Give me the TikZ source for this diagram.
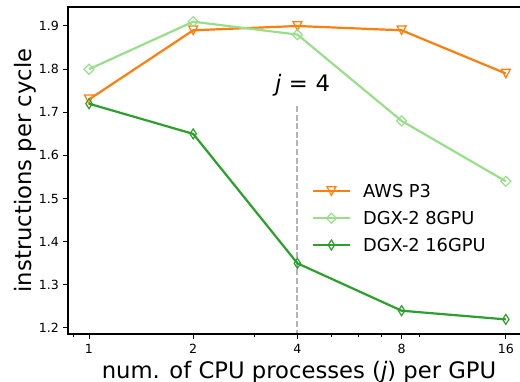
\documentclass[tikz,border=0pt]{standalone}
\usepackage{fontspec}
\setmainfont{DejaVu Sans}
\definecolor{cOrange}{HTML}{FF7F0E}
\definecolor{cLight}{HTML}{98DF8A}
\definecolor{cGreen}{HTML}{2CA02C}
\definecolor{cGrid}{HTML}{B4B4B4}
\begin{document}
\begin{tikzpicture}[x=1pt,y=-1pt,
  spine/.style={line width=1.2pt,black,line cap=rect},
  tick/.style={line width=1pt,black},
  ticklabel/.style={inner sep=0pt,font=\fontsize{12.6}{14}\selectfont},
  axlabel/.style={inner sep=0pt,font=\fontsize{22.7}{26}\selectfont},
  legtext/.style={inner sep=0pt,anchor=base west,font=\fontsize{17.8}{20}\selectfont},
  series/.style={line width=2.2pt,line join=round},
  mk/.style={line width=1.2pt,fill=none},
  tri/.pic={\draw[mk] (-4.5,-4.3) -- (4.5,-4.3) -- (0,4.3) -- cycle;},
  dia/.pic={\draw[mk] (-5,0) -- (0,-5) -- (5,0) -- (0,5) -- cycle;},
  thin/.pic={\draw[mk] (-3.2,0) -- (0,-5) -- (3.2,0) -- (0,5) -- cycle;}
]
\useasboundingbox (0,0) rectangle (520,382);

% data coordinates
\coordinate (a1) at (89,99.4);   \coordinate (a2) at (193.2,30.3);
\coordinate (a3) at (297.4,26);  \coordinate (a4) at (401.6,30.3);
\coordinate (a5) at (505.8,73.5);
\coordinate (b1) at (89,69.2);   \coordinate (b2) at (193.2,21.7);
\coordinate (b3) at (297.4,34.6);\coordinate (b4) at (401.6,120.9);
\coordinate (b5) at (505.8,181.3);
\coordinate (c1) at (89,103.7);  \coordinate (c2) at (193.2,133.9);
\coordinate (c3) at (297.4,263.3);\coordinate (c4) at (401.6,310.7);
\coordinate (c5) at (505.8,319.4);

% j = 4 reference line
\coordinate (vtop) at (297.4,106);
\coordinate (vbot) at (297.4,334);
\draw[cGrid,line width=1.9pt,dash pattern=on 6pt off 2.6pt] (vtop) -- (vbot);
\node[axlabel,anchor=base] (jlabel) at (302.5,92) {\itshape j\upshape\,\,=\,\,4};

% series
\draw[series,cOrange] (a1) -- (a2) -- (a3) -- (a4) -- (a5);
\foreach \p in {a1,a2,a3,a4,a5} \pic[cOrange] at (\p) {tri};
\draw[series,cLight] (b1) -- (b2) -- (b3) -- (b4) -- (b5);
\foreach \p in {b1,b2,b3,b4,b5} \pic[cLight] at (\p) {dia};
\draw[series,cGreen] (c1) -- (c2) -- (c3) -- (c4) -- (c5);
\foreach \p in {c1,c2,c3,c4,c5} \pic[cGreen] at (\p) {thin};

% spines
\draw[spine] (520,7) -- (68,7) -- (68,334) -- (520,334);

% y ticks
\foreach \v/\yy in {1.2/328,1.3/284.9,1.4/241.7,1.5/198.6,1.6/155.4,1.7/112.3,1.8/69.1,1.9/26}{
  \draw[tick] (63.3,\yy) -- (68,\yy);
  \node[ticklabel,anchor=east] at (59,\yy) {\v};
}
% x ticks
\foreach \n/\xx in {1/89,2/193.2,4/297.4,8/401.6,16/505.8}{
  \draw[tick] (\xx,334) -- (\xx,338.7);
  \node[ticklabel,anchor=base] at (\xx,353.3) {\n};
}
\foreach \xx in {73.2,254.2,330.9,358.4,381.5,419.3}{
  \draw[line width=0.8pt,black] (\xx,334) -- (\xx,336.8);
}

% axis labels
\node[axlabel,anchor=base] (xlab) at (299,378) {num. of CPU processes ({\itshape j}) per GPU};
\node[axlabel,anchor=base,rotate=90] (ylab) at (31.7,170.5) {instructions per cycle};

% legend
\coordinate (l1a) at (312.7,191);   \coordinate (l1b) at (350,191);
\coordinate (l2a) at (312.7,218.3); \coordinate (l2b) at (350,218.3);
\coordinate (l3a) at (312.7,245);   \coordinate (l3b) at (350,245);
\draw[series,cOrange] (l1a) -- (l1b); \pic[cOrange] at (331.4,191) {tri};
\draw[series,cLight] (l2a) -- (l2b);  \pic[cLight] at (331.4,218.3) {dia};
\draw[series,cGreen] (l3a) -- (l3b);  \pic[cGreen] at (331.4,245) {thin};
\node[legtext] (t1) at (363,197.7) {AWS P3};
\node[legtext] (t2) at (363,225) {DGX-2 8GPU};
\node[legtext] (t3) at (363,251.7) {DGX-2 16GPU};
\end{tikzpicture}
\end{document}
